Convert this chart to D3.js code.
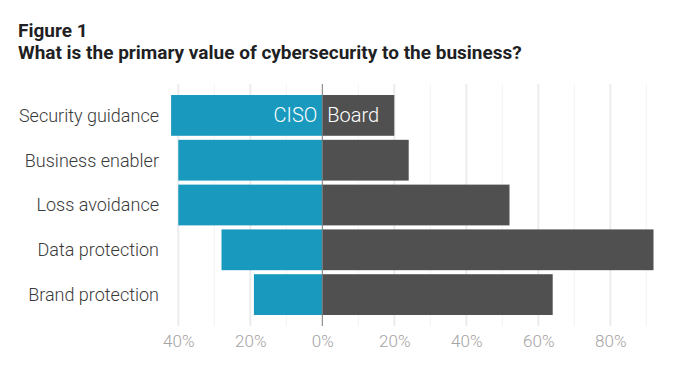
<!DOCTYPE html>
<html><head><meta charset="utf-8">
<script src="https://cdn.jsdelivr.net/npm/d3@7"></script>
<style>
body{margin:0;background:#fff;}
svg{display:block;font-family:Roboto, "Noto Sans", sans-serif;}
</style></head>
<body><svg id="c" width="685" height="380"></svg>
<script>
const categories = ["Security guidance","Business enabler","Loss avoidance","Data protection","Brand protection"];
const cisoValues = [42, 40, 40, 28, 19];
const boardValues = [20, 24, 52, 92, 64];
const seriesNames = ["CISO","Board"];
const tickValues = [-40,-20,0,20,40,60,80];
const gridValues = [-40,-30,-20,-10,0,10,20,30,40,50,60,70,80,90];
const titleLine1 = "Figure 1";
const titleLine2 = "What is the primary value of cybersecurity to the business?";

const svg = d3.select("#c");
const x = d3.scaleLinear().domain([-40, 90]).range([178.3, 646.3]);
const y = d3.scaleBand().domain(categories).range([93, 317]).paddingInner(0.09).paddingOuter(0.045);

svg.append("text").attr("x",18).attr("y",37).attr("font-size",19).attr("font-weight",700)
  .attr("fill","#1f1f24").text(titleLine1);
svg.append("text").attr("x",18).attr("y",59).attr("font-size",19).attr("font-weight",700)
  .attr("fill","#1f1f24").text(titleLine2);

// gridlines
svg.append("g").selectAll("line").data(gridValues.filter(d=>d!==0)).join("line")
  .attr("x1",d=>x(d)).attr("x2",d=>x(d)).attr("y1",84).attr("y2",326)
  .attr("stroke",d=>d%20===0?"#ececec":"#f3f3f3").attr("stroke-width",d=>d%20===0?2:1);

const rows = categories.map((c,i)=>({c, ciso:cisoValues[i], board:boardValues[i]}));
svg.append("g").selectAll("rect").data(rows).join("rect")
  .attr("x",d=>x(-d.ciso)).attr("width",d=>x(0)-x(-d.ciso))
  .attr("y",d=>y(d.c)).attr("height",y.bandwidth()).attr("fill","#1899bd");
svg.append("g").selectAll("rect").data(rows).join("rect")
  .attr("x",x(0)).attr("width",d=>x(d.board)-x(0))
  .attr("y",d=>y(d.c)).attr("height",y.bandwidth()).attr("fill","#505050");

// zero line
svg.append("line").attr("x1",x(0)).attr("x2",x(0)).attr("y1",84).attr("y2",326)
  .attr("stroke","#777").attr("stroke-width",1);

// series labels inside first row
const r0 = y(categories[0]) + y.bandwidth()/2;
svg.append("text").attr("x",x(0)-5).attr("y",r0).attr("dy","0.35em").attr("text-anchor","end")
  .attr("font-size",20).attr("font-weight",300).attr("fill","#fff").text(seriesNames[0]);
svg.append("text").attr("x",x(0)+5).attr("y",r0).attr("dy","0.35em").attr("text-anchor","start")
  .attr("font-size",20).attr("font-weight",300).attr("fill","#fff").text(seriesNames[1]);

// category labels
svg.append("g").selectAll("text").data(categories).join("text")
  .attr("x",159).attr("y",d=>y(d)+y.bandwidth()/2).attr("dy","0.35em").attr("text-anchor","end")
  .attr("font-size",18).attr("font-weight",300).attr("fill","#3a3a3a").text(d=>d);

// x axis tick labels
const axis = d3.axisBottom(x).tickValues(tickValues).tickSize(0).tickPadding(0)
  .tickFormat(d=>Math.abs(d)+"%");
const ag = svg.append("g").attr("transform","translate(0,335)").call(axis);
ag.select(".domain").remove();
ag.selectAll("text").attr("font-size",17).attr("font-weight",300).attr("fill","#a3a3a3")
  .attr("font-family","Roboto, sans-serif");
</script></body></html>
